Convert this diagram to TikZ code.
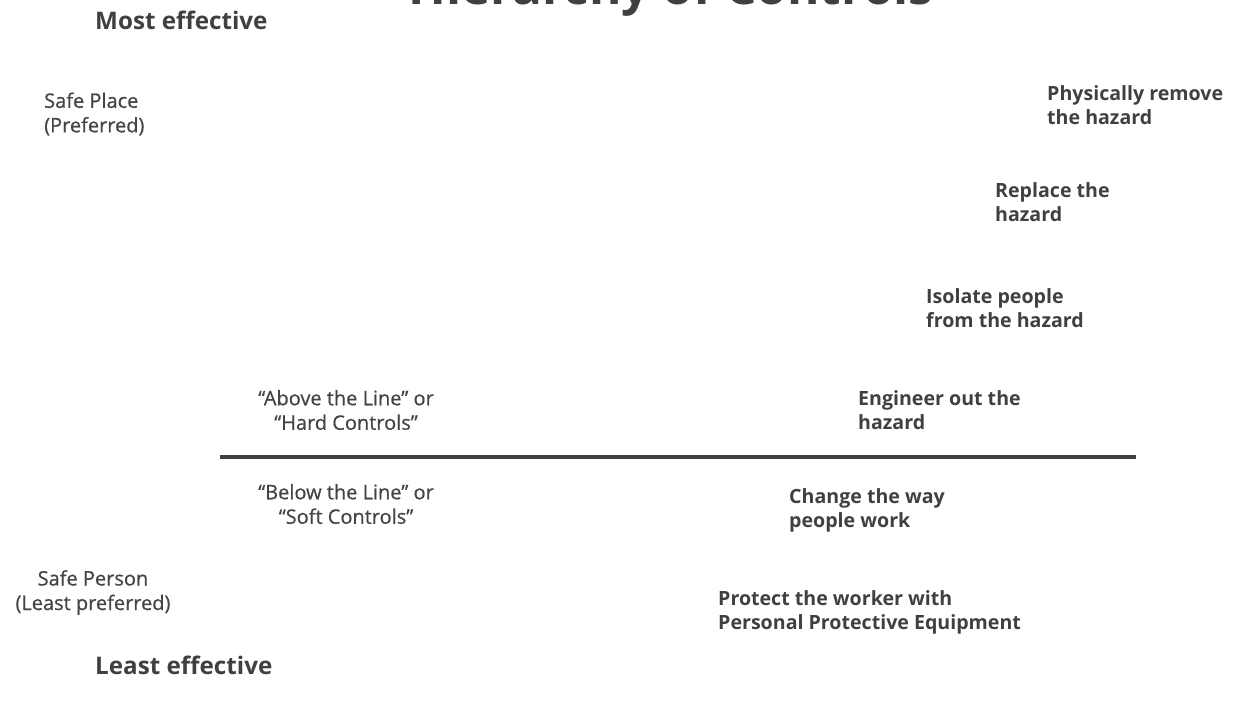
\documentclass[tikz,border=0pt]{standalone}
\usepackage{fontspec}
\setmainfont{Open Sans}
\newfontfamily\medfont[FakeBold=0.6]{Open Sans}
\definecolor{txtdark}{HTML}{404040}
\definecolor{txtmid}{HTML}{444444}
\tikzset{
  boldlbl/.style={inner sep=0pt, align=left, anchor=west, text=txtdark, font=\fontsize{19.6}{24.5}\selectfont\bfseries},
  reglbl/.style={inner sep=0pt, align=center, text=txtmid, font=\medfont\fontsize{20}{24.5}\selectfont},
  endlbl/.style={inner sep=0pt, anchor=west, text=txtdark, font=\fontsize{24.2}{28}\selectfont\bfseries},
  divider/.style={line width=3.5pt, draw=txtdark}
}
\begin{document}
\begin{tikzpicture}[x=1pt,y=-1pt]
\useasboundingbox (0,0) rectangle (1244,705);
\clip (0,0) rectangle (1244,705);
\node[inner sep=0pt, anchor=base, text=txtdark, font=\fontsize{49.5}{56}\selectfont\bfseries] (title) at (671,4) {Hierarchy of Controls};
\node[endlbl] (most) at (95,20) {Most effective};
\node[endlbl] (least) at (95,665) {Least effective};
\node[reglbl, align=left, anchor=west] (place) at (44,114) {Safe Place\\(Preferred)};
\node[reglbl] (person) at (93,592.5) {Safe Person\\(Least preferred)};
\node[reglbl] (above) at (346,410) {“Above the Line” or\\“Hard Controls”};
\node[reglbl] (below) at (346,504) {“Below the Line” or\\“Soft Controls”};
\node[boldlbl] (elim) at (1047,105) {Physically remove\\the hazard};
\node[boldlbl] (subst) at (995,202) {Replace the\\hazard};
\node[boldlbl] (isol) at (926,308) {Isolate people\\from the hazard};
\node[boldlbl] (eng) at (858,410) {Engineer out the\\hazard};
\node[boldlbl] (admin) at (789,510.5) {Change the way\\people work};
\node[boldlbl] (ppe) at (718,612.5) {Protect the worker with\\Personal Protective Equipment};
\coordinate (lineL) at (220,457);
\coordinate (lineR) at (1136,457);
\draw[divider] (lineL) -- (lineR);
\end{tikzpicture}
\end{document}
